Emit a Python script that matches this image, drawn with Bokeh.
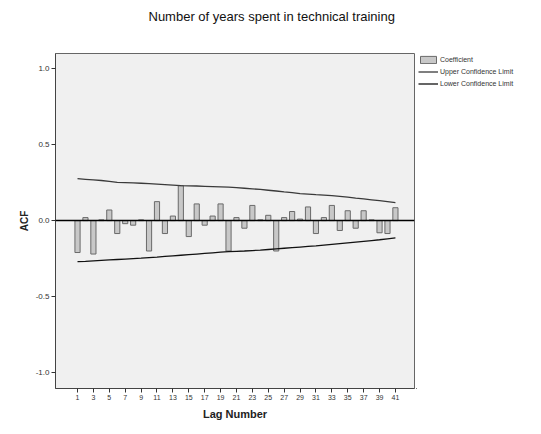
from bokeh.plotting import figure
from bokeh.models import FixedTicker, Span, Legend, LegendItem, Range1d, Title
from bokeh.layouts import row
from bokeh.embed import file_html
from bokeh.resources import INLINE

# ---- data ----
lags = list(range(1, 42))
acf = [-0.21, 0.02, -0.22, 0.005, 0.07, -0.085, -0.02, -0.03, 0.005, -0.20,
       0.125, -0.085, 0.03, 0.23, -0.105, 0.11, -0.03, 0.03, 0.11, -0.20,
       0.02, -0.05, 0.10, 0.005, 0.035, -0.20, 0.02, 0.06, 0.01, 0.09,
       -0.085, 0.02, 0.10, -0.065, 0.065, -0.05, 0.065, 0.005, -0.08, -0.085,
       0.085]
upper = [0.276, 0.272, 0.268, 0.264, 0.258, 0.252, 0.250, 0.248, 0.246, 0.243,
         0.240, 0.237, 0.234, 0.230, 0.229, 0.228, 0.226, 0.224, 0.222, 0.220,
         0.217, 0.213, 0.209, 0.205, 0.200, 0.195, 0.189, 0.184, 0.178, 0.175,
         0.171, 0.168, 0.164, 0.159, 0.154, 0.148, 0.143, 0.137, 0.131, 0.125,
         0.119]
lower = [-0.270, -0.268, -0.265, -0.262, -0.259, -0.256, -0.253, -0.250, -0.247, -0.243,
         -0.240, -0.236, -0.232, -0.228, -0.224, -0.220, -0.216, -0.212, -0.208, -0.204,
         -0.202, -0.200, -0.197, -0.194, -0.190, -0.186, -0.182, -0.178, -0.174, -0.170,
         -0.166, -0.161, -0.156, -0.151, -0.146, -0.141, -0.136, -0.131, -0.126, -0.120,
         -0.114]
x_ticks = list(range(1, 42, 2))
y_ticks = [-1.0, -0.5, 0.0, 0.5, 1.0]
y_tick_labels = ["-1.0", "-0.5", "0.0", "0.5", "1.0"]
title_text = "Number of years spent in technical training"
series_names = ["Coefficient", "Upper Confidence Limit", "Lower Confidence Limit"]

FONT = "Liberation Sans"
BAR_FILL, BAR_LINE = "#c8c8c8", "#6a6a6a"
UP_COL, LO_COL = "#3a3a3a", "#111111"

H = 430
p = figure(width=416, height=H, output_backend="svg", toolbar_location=None,
           x_range=Range1d(-1.77, 43.4), y_range=Range1d(-1.105, 1.1),
           min_border_left=55, min_border_right=2, min_border_top=53,
           min_border_bottom=H - 388, title=None)

p.background_fill_color = "#f0f0f0"
p.border_fill_color = "white"
p.outline_line_color = "#666666"
p.grid.visible = False

p.vbar(x=lags, top=acf, bottom=0, width=0.65, fill_color=BAR_FILL,
       line_color=BAR_LINE, line_width=1)
p.line(lags, upper, line_color=UP_COL, line_width=1.3)
p.line(lags, lower, line_color=LO_COL, line_width=1.3)
p.add_layout(Span(location=0, dimension="width", line_color="black", line_width=1.5))

# axes
p.xaxis.ticker = FixedTicker(ticks=x_ticks)
p.yaxis.ticker = FixedTicker(ticks=y_ticks)
p.yaxis.major_label_overrides = {t: l for t, l in zip(y_ticks, y_tick_labels)}
for ax in (p.xaxis[0], p.yaxis[0]):
    ax.minor_tick_line_color = None
    ax.major_tick_in = 0
    ax.major_tick_out = 4
    ax.major_tick_line_color = "#333333"
    ax.axis_line_color = "#444444"
    ax.major_label_text_font = FONT
    ax.major_label_text_color = "#333333"
    ax.axis_label_text_font = FONT
    ax.axis_label_text_font_style = "bold"
    ax.axis_label_text_color = "#222222"
p.xaxis.major_label_text_font_size = "7px"
p.yaxis.major_label_text_font_size = "8px"
p.xaxis.axis_label = "Lag Number"
p.xaxis.axis_label_text_font_size = "11px"
p.xaxis.axis_label_standoff = 5
p.xaxis.major_label_standoff = 2
p.yaxis.axis_label = "ACF"
p.yaxis.axis_label_text_font_size = "10px"
p.yaxis.axis_label_standoff = 3
p.yaxis.major_label_standoff = 2

# title (a blank spacer title nearest the frame, then the real one)
p.add_layout(Title(text=" ", text_font_size="21px", standoff=0), "above")
p.add_layout(Title(text=title_text, align="left", offset=93, text_font=FONT,
                   text_font_size="13px", text_font_style="normal",
                   text_color="#111111"), "above")

# legend in its own small figure to the right of the chart; its sample
# glyphs use the same series but lie outside this figure's visible ranges
q = figure(width=109, height=H, output_backend="svg", toolbar_location=None,
           x_range=Range1d(1000, 1001), y_range=Range1d(1000, 1001),
           min_border_left=0, min_border_right=0, min_border_top=0,
           min_border_bottom=0)
q.axis.visible = False
q.grid.visible = False
q.outline_line_color = None
q.background_fill_color = "white"
q.border_fill_color = "white"
rb = q.vbar(x=lags, top=acf, bottom=0, width=0.65, fill_color=BAR_FILL,
            line_color=BAR_LINE, line_width=1)
ru = q.line(lags, upper, line_color=UP_COL, line_width=1.3)
rl = q.line(lags, lower, line_color=LO_COL, line_width=1.3)

legend = Legend(items=[LegendItem(label=series_names[0], renderers=[rb]),
                       LegendItem(label=series_names[1], renderers=[ru]),
                       LegendItem(label=series_names[2], renderers=[rl])],
                location="top_left", orientation="vertical")
legend.label_text_font = FONT
legend.label_text_font_size = "7px"
legend.label_text_color = "#333333"
legend.glyph_width = 20
legend.glyph_height = 9
legend.label_height = 9
legend.label_standoff = 2
legend.spacing = 3
legend.padding = 0
legend.margin = 2
legend.border_line_color = None
legend.background_fill_alpha = 0
q.add_layout(legend)

layout = row(p, q)
open("out.html", "w").write(file_html(layout, INLINE))
